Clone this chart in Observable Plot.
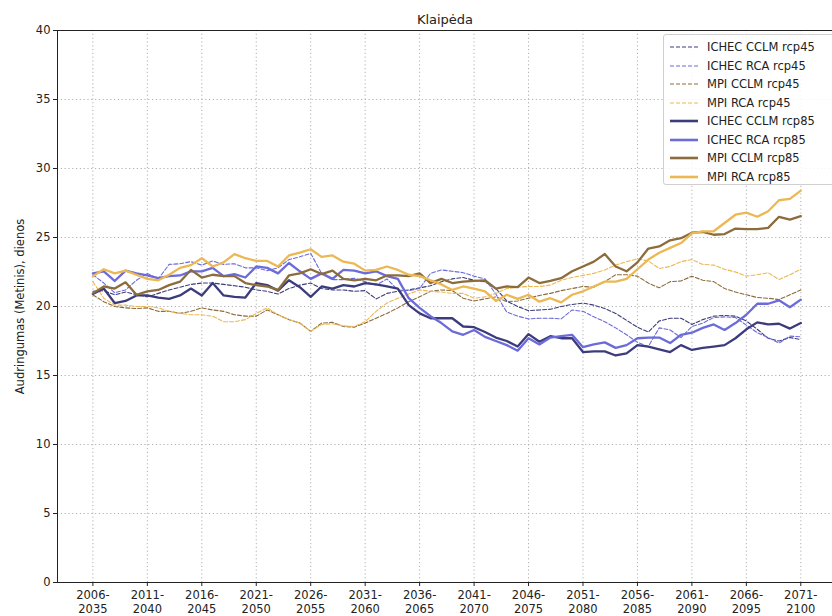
<!DOCTYPE html>
<html>
<head>
<meta charset="utf-8">
<script src="https://cdn.jsdelivr.net/npm/d3@7"></script>
<script src="https://cdn.jsdelivr.net/npm/@observablehq/plot@0.6"></script>
<style>
  html, body { margin: 0; padding: 0; background: #fff; overflow: hidden; }
  #wrap { position: relative; width: 832px; height: 616px; overflow: hidden; font-family: "DejaVu Sans", sans-serif; }
  #legend { position: absolute; left: 663px; top: 34px; width: 190px; height: 151px;
    background: rgba(255,255,255,0.85); border: 1px solid #d0d0d0; border-radius: 3px; box-sizing: border-box; }
  .row { position: absolute; left: 0; height: 18px; display: flex; align-items: center; font-size: 11.5px; color: #222; white-space: nowrap; }
  .row svg { margin-left: 6px; margin-right: 9px; }
</style>
</head>
<body>
<div id="wrap"></div>
<script>
const title = "Klaipėda";
const yLabel = "Audringumas (Metinis), dienos";
const years = d3.range(2006, 2072);
const tickYears = [2006, 2011, 2016, 2021, 2026, 2031, 2036, 2041, 2046, 2051, 2056, 2061, 2066, 2071];
const tickLabels = ["2006-\n2035","2011-\n2040","2016-\n2045","2021-\n2050","2026-\n2055","2031-\n2060","2036-\n2065","2041-\n2070","2046-\n2075","2051-\n2080","2056-\n2085","2061-\n2090","2066-\n2095","2071-\n2100"];
const yTicks = [0, 5, 10, 15, 20, 25, 30, 35, 40];

const seriesNames = ["ICHEC CCLM rcp45","ICHEC RCA rcp45","MPI CCLM rcp45","MPI RCA rcp45","ICHEC CCLM rcp85","ICHEC RCA rcp85","MPI CCLM rcp85","MPI RCA rcp85"];
const seriesColors = ["#3c3c7c","#6b6bd9","#8b6c3a","#ebb853","#3c3c7c","#6b6bd9","#8b6c3a","#ebb853"];

const ichecCclm45 = [21.1,21.15,20.85,21.05,20.85, 20.7,20.95,21.2,21.4,21.6, 21.7,21.7,21.6,21.5,21.4, 21.2,21.1,20.9,21.3,21.55, 21.7,21.3,21.2,21.2,21.1, 21.15,20.55,20.95,21.1,21.2, 21.35,21.5,21.8,22.0,22.1, 21.9,21.8,21.3,20.4,20.0, 19.7,19.75,19.8,20.0,20.15, 20.25,20.1,19.85,19.5,19.0, 18.5,18.15,18.95,19.15,19.15, 18.7,19.05,19.3,19.35,19.3, 18.95,18.35,17.7,17.5,17.75, 17.6];
const ichecRca45 = [22.3,21.7,21.0,21.2,21.9, 22.4,22.0,23.05,23.1,23.25, 23.0,23.3,23.05,23.1,22.8, 22.8,22.6,22.8,23.4,23.6, 23.85,22.4,21.95,21.95,22.05, 21.8,21.55,22.0,21.2,21.15, 21.3,22.4,22.65,22.55,22.45, 22.2,22.0,20.9,19.6,19.3, 19.1,19.15,19.15,19.1,19.75, 19.65,19.25,18.9,18.45,17.95, 17.4,17.1,18.45,18.3,17.75, 18.55,18.8,19.2,19.25,19.2, 18.65,18.1,17.75,17.35,17.85, 17.8];
const mpiCclm45 = [20.85,20.35,20.0,19.9,19.85, 19.9,19.65,19.65,19.5,19.65, 19.9,19.75,19.65,19.4,19.3, 19.3,19.75,19.4,19.05,18.8, 18.2,18.8,18.85,18.55,18.5, 18.8,19.15,19.5,19.9,20.35, 20.7,21.1,21.2,21.15,20.6, 20.4,20.55,20.7,20.35,20.4, 20.6,20.8,20.95,21.15,21.3, 21.45,21.4,21.8,22.3,22.3, 22.2,21.7,21.35,21.8,21.85, 22.2,21.9,21.8,21.3,21.05, 20.85,20.65,20.6,20.5,20.85, 21.2];
const mpiRca45 = [21.8,20.6,20.1,20.1,20.0, 20.0,19.9,19.65,19.5,19.4, 19.4,19.3,18.9,18.9,19.05, 19.5,19.9,19.4,19.05,18.8, 18.2,18.7,18.75,18.6,18.55, 18.9,19.65,20.25,20.6,20.9, 21.2,21.1,21.05,20.95,20.95, 20.6,20.7,20.95,21.3,21.4, 21.45,21.45,21.55,21.9,22.1, 22.25,22.4,22.65,23.0,23.25, 23.45,23.3,22.75,22.9,23.25, 23.4,23.05,23.0,22.7,22.5, 22.2,22.3,22.45,21.95,22.3, 22.7];
const ichecCclm85 = [20.9,21.3,20.25,20.4,20.8, 20.8,20.65,20.55,20.8,21.3, 20.8,21.7,20.8,20.7,20.65, 21.7,21.55,21.15,21.9,21.4, 20.7,21.45,21.3,21.55,21.45, 21.7,21.6,21.45,21.3,20.1, 19.5,19.15,19.15,19.15,18.55, 18.5,18.15,17.75,17.5,17.1, 18.0,17.45,17.85,17.7,17.7, 16.7,16.75,16.75,16.45,16.6, 17.2,17.1,16.9,16.7,17.2, 16.85,17.0,17.1,17.2,17.7, 18.35,18.85,18.7,18.75,18.4, 18.8];
const ichecRca85 = [22.4,22.55,21.85,22.6,22.4, 22.25,22.05,22.2,22.25,22.55, 22.55,22.8,22.2,22.35,22.1, 22.9,22.8,22.4,23.15,22.55, 22.0,22.4,22.0,22.65,22.6, 22.4,22.55,22.2,22.0,20.6, 19.9,19.3,18.8,18.2,17.95, 18.3,17.8,17.5,17.2,16.8, 17.7,17.25,17.75,17.85,17.95, 17.05,17.25,17.4,17.0,17.2, 17.7,17.75,17.75,17.35,17.95, 18.1,18.45,18.7,18.3,18.8, 19.4,20.2,20.2,20.45,19.95, 20.5];
const mpiCclm85 = [20.95,21.45,21.3,21.75,20.85, 21.1,21.2,21.55,21.8,22.65, 22.1,22.3,22.2,22.2,21.7, 21.55,21.45,21.2,22.25,22.4, 22.7,22.35,22.6,22.0,21.9, 22.0,21.9,22.25,22.25,22.2, 22.4,21.7,22.0,21.7,21.8, 21.85,21.9,21.3,21.45,21.4, 22.1,21.7,21.85,22.05,22.55, 22.9,23.25,23.8,22.9,22.55, 23.2,24.2,24.35,24.8,24.95, 25.35,25.4,25.2,25.25,25.65, 25.6,25.6,25.7,26.5,26.3, 26.55];
const mpiRca85 = [22.2,22.7,22.4,22.6,22.3, 22.0,21.9,22.3,22.8,23.0, 23.5,22.9,23.2,23.8,23.5, 23.3,23.3,22.9,23.7,23.9, 24.15,23.6,23.7,23.25,23.1, 22.6,22.65,22.9,22.65,22.3, 22.2,21.9,21.6,21.2,21.45, 21.3,21.1,20.4,20.85,20.55, 20.85,20.35,20.6,20.3,20.85, 21.1,21.45,21.8,21.8,22.0, 22.7,23.4,23.9,24.25,24.6, 25.3,25.45,25.45,26.05,26.65, 26.8,26.5,26.9,27.7,27.8, 28.4];

const seriesValues = [ichecCclm45, ichecRca45, mpiCclm45, mpiRca45, ichecCclm85, ichecRca85, mpiCclm85, mpiRca85];

const rows = [];
seriesNames.forEach((name, s) => {
  seriesValues[s].forEach((v, i) => rows.push({series: name, year: years[i], value: v, rcp: name.endsWith("rcp45") ? "45" : "85"}));
});
const rows45 = rows.filter(d => d.rcp === "45");
const rows85 = rows.filter(d => d.rcp === "85");

const chart = Plot.plot({
  width: 832,
  height: 616,
  marginLeft: 57,
  marginRight: 0,
  marginTop: 30,
  marginBottom: 34,
  style: {fontFamily: "DejaVu Sans, sans-serif", fontSize: "11.5px", color: "#222", background: "#fff"},
  x: {domain: [2002.75, 2073.91]},
  y: {domain: [0, 40]},
  color: {domain: seriesNames, range: seriesColors},
  marks: [
    Plot.gridX(tickYears, {stroke: "#b0b0b0", strokeOpacity: 1, strokeDasharray: "1.2,2.6", strokeWidth: 1}),
    Plot.gridY(yTicks, {stroke: "#b0b0b0", strokeOpacity: 1, strokeDasharray: "1.2,2.6", strokeWidth: 1}),
    Plot.line(rows45, {x: "year", y: "value", z: "series", stroke: "series", strokeWidth: 1.1, strokeDasharray: "4,2"}),
    Plot.line(rows85, {x: "year", y: "value", z: "series", stroke: "series", strokeWidth: 2.3}),
    Plot.frame({stroke: "#222", strokeWidth: 1}),
    Plot.axisX(tickYears, {tickSize: 4, tickPadding: 3, tickFormat: (d, i) => tickLabels[i], label: null, lineHeight: 1.2, stroke: "#222"}),
    Plot.axisY(yTicks, {tickSize: 4, tickPadding: 3, label: yLabel, labelAnchor: "center", labelArrow: "none", labelOffset: 42, stroke: "#222"}),
    Plot.text([title], {frameAnchor: "top", dy: -16, fontSize: 13, fill: "#222"})
  ]
});

const wrap = document.getElementById("wrap");
wrap.appendChild(chart);

const legend = document.createElement("div");
legend.id = "legend";
seriesNames.forEach((name, i) => {
  const row = document.createElement("div");
  row.className = "row";
  row.style.top = (3 + i * 18.5) + "px";
  const dashed = name.endsWith("rcp45");
  row.innerHTML = `<svg width="28" height="6"><line x1="0" y1="3" x2="28" y2="3" stroke="${seriesColors[i]}" stroke-width="${dashed ? 1.1 : 2.6}" ${dashed ? 'stroke-dasharray="4,2"' : ''}/></svg><span>${name}</span>`;
  legend.appendChild(row);
});
wrap.appendChild(legend);
</script>
</body>
</html>
